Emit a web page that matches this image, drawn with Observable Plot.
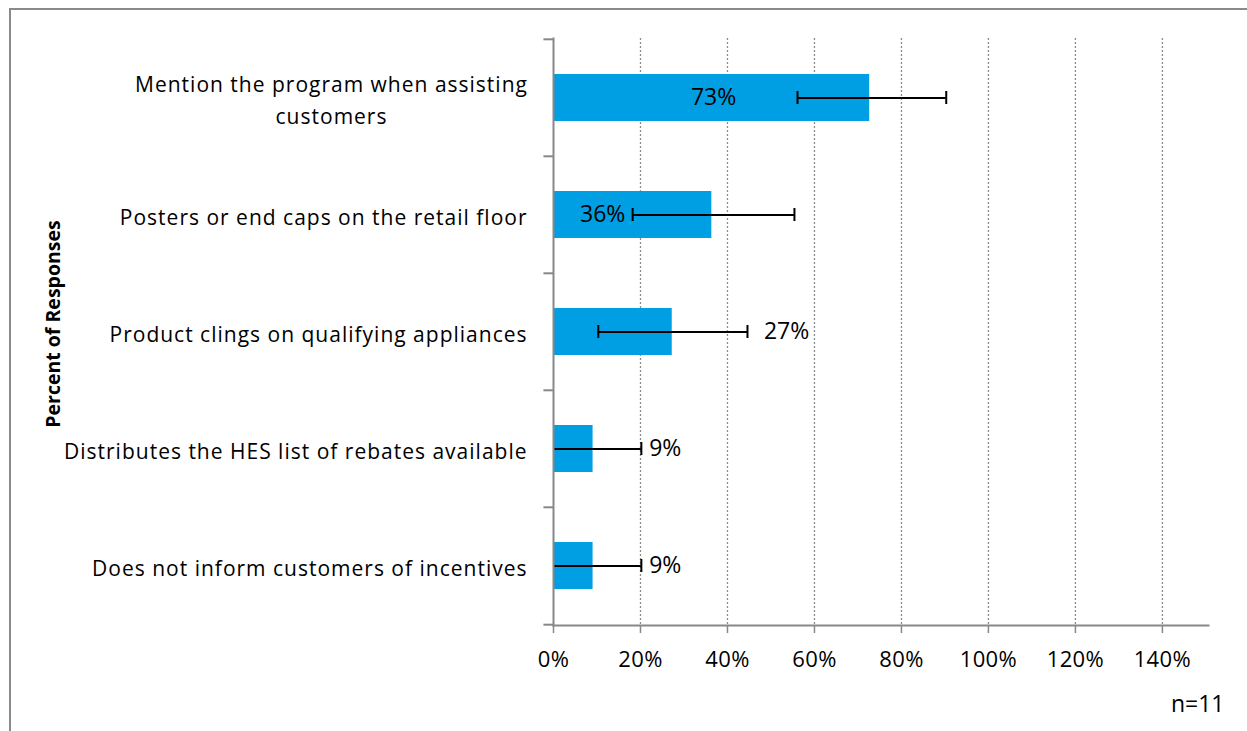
<!DOCTYPE html>
<html><head><meta charset="utf-8">
<script src="https://cdn.jsdelivr.net/npm/d3@7"></script>
<script src="https://cdn.jsdelivr.net/npm/@observablehq/plot@0.6"></script>
<style>
body{margin:0;background:#fff;}
#wrap{position:relative;width:1247px;height:731px;overflow:hidden;}
#border{position:absolute;left:9px;top:8px;width:1400px;height:900px;border-top:2px solid #8a8a8a;border-left:2px solid #8a8a8a;}
#chart{position:absolute;left:0;top:0;}
.hes g[aria-label="y-axis tick label"] text{letter-spacing:1px;}
.hes g[aria-label="x-axis tick label"] text{letter-spacing:0.4px;}
</style></head><body>
<div id="wrap"><div id="border"></div><div id="chart"></div></div>
<script>
const categories = [
  "Mention the program when assisting\ncustomers",
  "Posters or end caps on the retail floor",
  "Product clings on qualifying appliances",
  "Distributes the HES list of rebates available",
  "Does not inform customers of incentives"
];
const values = [72.7, 36.4, 27.3, 9.1, 9.1];
const errLow = [56.1, 18.2, 10.3, -2, -2];
const errHigh = [90.3, 55.4, 44.6, 20.2, 20.2];
const valueLabels = ["73%", "36%", "27%", "9%", "9%"];
const labelAt = [36.8, 11.3, 53.6, 25.7, 25.7];
const xTicks = [0, 20, 40, 60, 80, 100, 120, 140];
const axisTitle = "Percent of Responses";
const note = "n=11";

const data = categories.map((c, i) => ({cat: c, value: values[i], lo: errLow[i], hi: errHigh[i], label: valueLabels[i], at: labelAt[i]}));

const W = 1247, H = 731, mL = 553, mT = 38, mR = 39, mB = 106;
const bw = (H - mT - mB) / categories.length;
const font = "'Open Sans', Lato, sans-serif";
const wrapped = categories.filter(c => c.includes("\n"));
const single = categories.filter(c => !c.includes("\n"));

const chart = Plot.plot({
  className: "hes",
  width: W, height: H, marginLeft: mL, marginTop: mT, marginRight: mR, marginBottom: mB,
  style: {fontFamily: font, fontSize: "20px", color: "#000", background: "transparent", overflow: "visible"},
  x: {domain: [0, 150.6]},
  y: {type: "band", domain: categories, padding: 0},
  marks: [
    Plot.ruleX(xTicks.slice(1), {stroke: "#8c8c8c", strokeDasharray: "2,2", strokeWidth: 1.3}),
    Plot.barX(data, {x: "value", y: "cat", fill: "#009fe3", insetTop: 35, insetBottom: 35}),
    Plot.ruleY(data, {y: "cat", x1: "lo", x2: "hi", stroke: "#000", strokeWidth: 2, clip: true}),
    Plot.tickX(data, {x: "lo", y: "cat", insetTop: 52, insetBottom: 52, stroke: "#000", strokeWidth: 2, clip: true}),
    Plot.tickX(data, {x: "hi", y: "cat", insetTop: 52, insetBottom: 52, stroke: "#000", strokeWidth: 2, clip: true}),
    Plot.text(data, {x: "at", y: "cat", text: "label", fontSize: 23, fill: "#000"}),
    Plot.axisX({ticks: xTicks, tickFormat: d => d + "%", tickSize: 8, tickPadding: 18, stroke: "#888", strokeWidth: 1.5, label: null, fontSize: 22, fill: "#000"}),
    Plot.axisY(single, {tickSize: 0, tickPadding: 26, dy: 3, label: null, fontSize: 21, fill: "#000"}),
    Plot.axisY(wrapped, {tickSize: 0, tickPadding: 222, textAnchor: "middle", label: null, fontSize: 21, lineHeight: 1.5, fill: "#000"}),
    Plot.ruleY(categories, {y: d => d, x1: -2.2, x2: 0, dy: -bw / 2, stroke: "#888", strokeWidth: 2}),
    Plot.ruleY([categories[categories.length - 1]], {y: d => d, x1: -2.2, x2: 0, dy: bw / 2, stroke: "#888", strokeWidth: 2}),
    Plot.frame({anchor: "bottom", stroke: "#888", strokeWidth: 2}),
    Plot.frame({anchor: "left", stroke: "#888", strokeWidth: 2}),
    Plot.text([axisTitle], {frameAnchor: "left", textAnchor: "middle", dx: -500, dy: -8, rotate: -90, fontWeight: "bold", fontSize: 19.5, fill: "#000"}),
    Plot.text([note], {frameAnchor: "bottom-right", dx: 16, dy: 86, textAnchor: "end", fontSize: 23, fill: "#000"})
  ]
});
document.getElementById("chart").appendChild(chart);
</script>
</body></html>
